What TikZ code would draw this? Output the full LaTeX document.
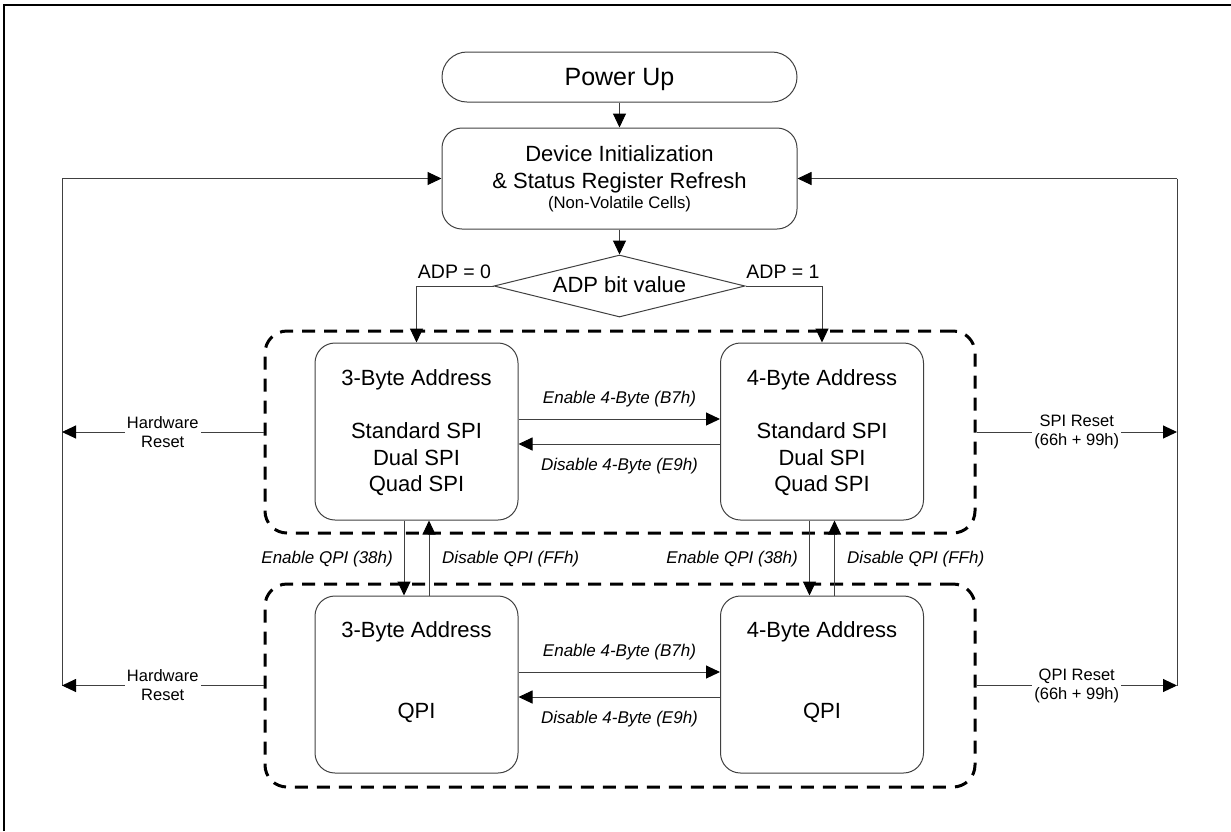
\documentclass[tikz,border=0pt]{standalone}
\usepackage{fontspec}
\setmainfont{Liberation Sans}
\usetikzlibrary{arrows.meta,shapes.geometric,calc}
\begin{document}
\begin{tikzpicture}[x=1pt,y=-1pt,
  line/.style={draw=black!75, line width=1pt},
  arr/.style={line, -{Triangle[length=14pt,width=13pt,color=black]}},
  box/.style={draw=black!75, line width=1pt, rounded corners=20pt, inner sep=0pt},
  group/.style={draw=black, line width=3pt, dash pattern=on 13pt off 9pt, rounded corners=22pt, inner sep=0pt},
  big/.style={font=\fontsize{22}{26}\selectfont, anchor=base, inner sep=0pt},
  small/.style={font=\fontsize{16.7}{20}\selectfont, anchor=base, inner sep=0pt},
  cmd/.style={font=\fontsize{17}{20}\selectfont\itshape, inner sep=0pt},
  lab/.style={fill=white, align=center, font=\fontsize{16.5}{19}\selectfont, inner sep=2pt},
  adpl/.style={font=\fontsize{19.5}{22}\selectfont, anchor=base, inner sep=0pt}
]
\useasboundingbox (0,0) rectangle (1231,831);
% frame
\draw[line width=2.7pt] (4,831) -- (4,5) -- (1231,5);

% groups
\node[group, minimum width=710pt, minimum height=202pt] (g1) at (620,432) {};
\node[group, minimum width=710pt, minimum height=203pt] (g2) at (620,685.5) {};

% main nodes
\node[box, rounded corners=25pt, minimum width=355pt, minimum height=50pt] (pu) at (619.5,77) {};
\node[big, font=\fontsize{25}{30}\selectfont] (put) at (619.5,85) {Power Up};

\node[box, minimum width=355pt, minimum height=101pt] (dev) at (619.5,178.5) {};
\node[big] (dt1) at (619.5,161.7) {Device Initialization};
\node[big] (dt2) at (619.5,188.3) {\& Status Register Refresh};
\node[small] (dt3) at (619.5,208) {(Non-Volatile Cells)};

\node[diamond, draw=black!75, line width=1pt, minimum width=251pt, minimum height=62pt, inner sep=0pt] (adp) at (619.5,286) {};
\node[big] (adpt) at (619.5,292.7) {ADP bit value};
\node[adpl] (a0) at (454.5,278.3) {ADP = 0};
\node[adpl] (a1) at (783,278.3) {ADP = 1};

\node[box, minimum width=203pt, minimum height=177pt] (b1) at (416.5,431.5) {};
\node[box, minimum width=203pt, minimum height=177pt] (b2) at (822,431.5) {};
\node[box, minimum width=203pt, minimum height=177pt] (b3) at (416.5,684.5) {};
\node[box, minimum width=203pt, minimum height=177pt] (b4) at (822,684.5) {};

\node[big] (b1a) at (416.5,385) {3-Byte Address};
\node[big] (b1b) at (416.5,438.3) {Standard SPI};
\node[big] (b1c) at (416.5,465) {Dual SPI};
\node[big] (b1d) at (416.5,491.7) {Quad SPI};
\node[big] (b2a) at (822,385) {4-Byte Address};
\node[big] (b2b) at (822,438.3) {Standard SPI};
\node[big] (b2c) at (822,465) {Dual SPI};
\node[big] (b2d) at (822,491.7) {Quad SPI};
\node[big] (b3a) at (416.5,637.7) {3-Byte Address};
\node[big] (b3b) at (416.5,718.3) {QPI};
\node[big] (b4a) at (822,637.7) {4-Byte Address};
\node[big] (b4b) at (822,718.3) {QPI};

% flow arrows
\draw[arr] (pu.south) -- (dev.north);
\draw[arr] (dev.south) -- (adp.north);
\draw[arr] (adp.west) -| (b1.north);
\draw[arr] (adp.east) -| (b2.north);

% 4-byte transitions
\draw[arr] ($(b1.east)+(0,-12.5)$) -- ($(b2.west)+(0,-12.5)$);
\draw[arr] ($(b2.west)+(0,12.5)$) -- ($(b1.east)+(0,12.5)$);
\node[cmd, anchor=base] (e1) at (619.5,403) {Enable 4-Byte (B7h)};
\node[cmd, anchor=base] (d1) at (619.5,470) {Disable 4-Byte (E9h)};
\draw[arr] ($(b3.east)+(0,-12.5)$) -- ($(b4.west)+(0,-12.5)$);
\draw[arr] ($(b4.west)+(0,12.5)$) -- ($(b3.east)+(0,12.5)$);
\node[cmd, anchor=base] (e2) at (619.5,656) {Enable 4-Byte (B7h)};
\node[cmd, anchor=base] (d2) at (619.5,723.3) {Disable 4-Byte (E9h)};

% QPI transitions
\draw[arr] ($(b1.south)+(-12.5,0)$) -- ($(b3.north)+(-12.5,0)$);
\draw[arr] ($(b3.north)+(12.5,0)$) -- ($(b1.south)+(12.5,0)$);
\draw[arr] ($(b2.south)+(-12.5,0)$) -- ($(b4.north)+(-12.5,0)$);
\draw[arr] ($(b4.north)+(12.5,0)$) -- ($(b2.south)+(12.5,0)$);
\node[cmd, anchor=base east] (q1) at (393,563.3) {Enable QPI (38h)};
\node[cmd, anchor=base west] (q2) at (442,563.3) {Disable QPI (FFh)};
\node[cmd, anchor=base east] (q3) at (798,563.3) {Enable QPI (38h)};
\node[cmd, anchor=base west] (q4) at (847,563.3) {Disable QPI (FFh)};

% reset paths
\coordinate (lt) at (62,178.5);
\coordinate (lb1) at (62,432);
\coordinate (lb2) at (62,685.5);
\coordinate (rt) at (1177,178.5);
\coordinate (rb1) at (1177,432);
\coordinate (rb2) at (1177,685.5);
\draw[line] (lt) -- (lb2);
\draw[line] (rt) -- (rb2);
\draw[arr] (lt) -- (dev.west);
\draw[arr] (rt) -- (dev.east);
\draw[arr] (g1.west) -- node[lab] (hr1) {Hardware\\Reset} (lb1);
\draw[arr] (g2.west) -- node[lab] (hr2) {Hardware\\Reset} (lb2);
\draw[arr] (g1.east) -- node[lab] (sr) {SPI Reset\\(66h + 99h)} (rb1);
\draw[arr] (g2.east) -- node[lab] (qr) {QPI Reset\\(66h + 99h)} (rb2);
\end{tikzpicture}
\end{document}
